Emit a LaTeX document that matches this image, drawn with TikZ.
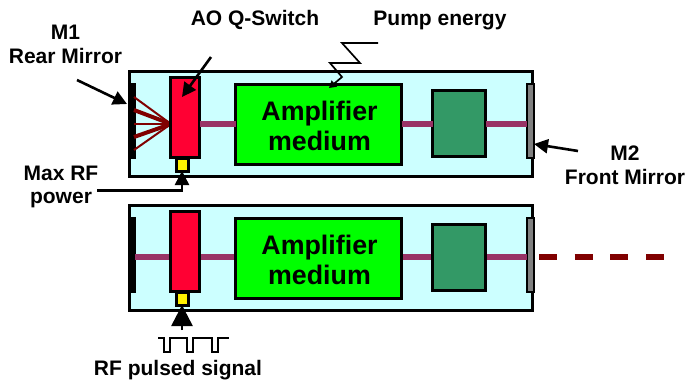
\documentclass[tikz,border=0pt]{standalone}
\usepackage{fontspec}
\setmainfont{Liberation Sans}
\usetikzlibrary{arrows.meta,calc}
\definecolor{cav}{HTML}{CCFFFF}
\definecolor{beam}{HTML}{993366}
\definecolor{ray}{HTML}{800000}
\definecolor{qred}{HTML}{FF0033}
\definecolor{amp}{HTML}{00FF00}
\definecolor{dgreen}{HTML}{339966}
\definecolor{mgray}{HTML}{808080}
\tikzset{
  x=1pt,y=-1pt,
  part/.style={draw=black,line width=3pt,inner sep=0pt,outer sep=0pt,anchor=north west},
  cavity/.style={part,fill=cav,line width=3.5pt,minimum width=403pt,minimum height=105pt},
  rearm/.style={fill=black,draw=black,line width=0pt,inner sep=0pt,outer sep=0pt,anchor=north west,minimum width=7pt,minimum height=75pt},
  frontm/.style={part,fill=mgray,line width=2.5pt,minimum width=7pt,minimum height=74pt},
  qswitch/.style={part,fill=qred,minimum width=29pt,minimum height=80pt},
  rfbox/.style={part,fill=yellow,minimum width=12pt,minimum height=13pt},
  ampbox/.style={part,fill=amp,minimum width=166pt,minimum height=80pt},
  amptext/.style={font=\bfseries\fontsize{26.8}{30}\selectfont,align=center,inner sep=0pt},
  crystal/.style={part,fill=dgreen,minimum width=53pt,minimum height=66pt},
  beamline/.style={draw=beam,line width=6pt},
  rayline/.style={draw=ray},
  label/.style={font=\bfseries\fontsize{21}{23.5}\selectfont,align=center,inner sep=0pt},
  pointer/.style={draw=black,line width=2.6pt,-{Triangle[length=14pt,width=14pt]}},
  thinwire/.style={draw=black,line width=2pt},
}
\begin{document}
\begin{tikzpicture}
\useasboundingbox (0,0) rectangle (685,381);
% top cavity
\node[cavity] (cavA) at (129.5,71.5) {};
\node[rearm] (rearA) at (128,83) {};
\node[frontm] (frontA) at (527,84) {};
\coordinate (fan) at (171,124);
\coordinate (rA1) at ($(rearA.north east)+(-1,14)$);
\coordinate (rA2) at ($(rearA.north east)+(-1,27)$);
\coordinate (rA3) at ($(rearA.north east)+(-1,41)$);
\coordinate (rA4) at ($(rearA.north east)+(-1,54)$);
\coordinate (rA5) at ($(rearA.north east)+(-1,67)$);
\draw[rayline,line width=2pt] (fan) -- (rA1);
\draw[rayline,line width=4pt] (fan) -- (rA2);
\draw[rayline,line width=2pt] (fan) -- (rA3);
\draw[rayline,line width=4pt] (fan) -- (rA4);
\draw[rayline,line width=2pt] (fan) -- (rA5);
\node[qswitch] (qA) at (170.5,77) {};
\node[rfbox] (rfA) at (176,158) {};
\node[ampbox] (ampA) at (235.5,84) {};
\node[amptext] (txtA) at ($(ampA.center)+(1,2)$) {Amplifier\\medium};
\node[crystal] (cryA) at (432.5,90.5) {};
\draw[beamline] (qA.east|-fan) -- (ampA.west|-fan);
\draw[beamline] (ampA.east|-fan) -- (cryA.west|-fan);
\draw[beamline] (cryA.east|-fan) -- (frontA.west|-fan);
% bottom cavity
\node[cavity] (cavB) at (129.5,205.5) {};
\node[rearm] (rearB) at (128,217) {};
\node[frontm] (frontB) at (527,218) {};
\coordinate (bm) at (0,257);
\draw[beamline] (rearB.east|-bm) -- (frontB.west|-bm);
\node[qswitch] (qB) at (170.5,211) {};
\node[rfbox] (rfB) at (176,292) {};
\node[ampbox] (ampB) at (235.5,218) {};
\node[amptext] (txtB) at ($(ampB.center)+(1,2)$) {Amplifier\\medium};
\node[crystal] (cryB) at (432.5,224.5) {};
\coordinate (dashEnd) at (664,257);
\draw[draw=ray,line width=6pt,dash pattern=on 18pt off 17.7pt] ($(frontB.east|-bm)+(5,0)$) -- (dashEnd);
% labels
\node[label] (m1) at (65.5,44.5) {M1\\Rear Mirror};
\node[label] (ao) at (255,20) {AO Q-Switch};
\node[label] (pump) at (440,20) {Pump energy};
\node[label] (maxrf) at (61,187) {Max RF\\power};
\node[label] (m2) at (625,165.5) {M2\\Front Mirror};
\node[label] (pulsed) at (178,370) {RF pulsed signal};
% pointers
\coordinate (m1s) at (77,80);
\coordinate (aos) at (211,57);
\coordinate (aot) at (182,97);
\coordinate (m2s) at (578,151);
\coordinate (rfs) at (97,190.5);
\coordinate (rfb) at (182,330);
\draw[pointer] (m1s) -- ($(rearA.north east)+(-8,21)$);
\draw[pointer] (aos) -- (aot);
\draw[pointer] (m2s) -- ($(frontA.east)+(0,23)$);
\draw[pointer] (rfs) -| (rfA.south);
\draw[pointer,-{Triangle[length=21pt,width=21pt]}] (rfb) -- (rfB.south);
% pump zigzag
\coordinate (z0) at (378,43);
\coordinate (zt) at (329,88);
\draw[draw=black,line width=1.7pt,-{Triangle[length=7pt,width=8pt]}] (z0) -- (342,43) -- (360,63) -- (330,63) -- (342,77) -- (zt);
% pulse wave
\coordinate (w0) at (158,338);
\coordinate (w1) at (229,338);
\draw[thinwire] (w0) -- (164,338) -- (164,352) -- (170,352) -- (170,338) -- (187,338) -- (187,352) -- (193,352) -- (193,338) -- (212,338) -- (212,352) -- (218,352) -- (218,338) -- (w1);
\end{tikzpicture}
\end{document}
